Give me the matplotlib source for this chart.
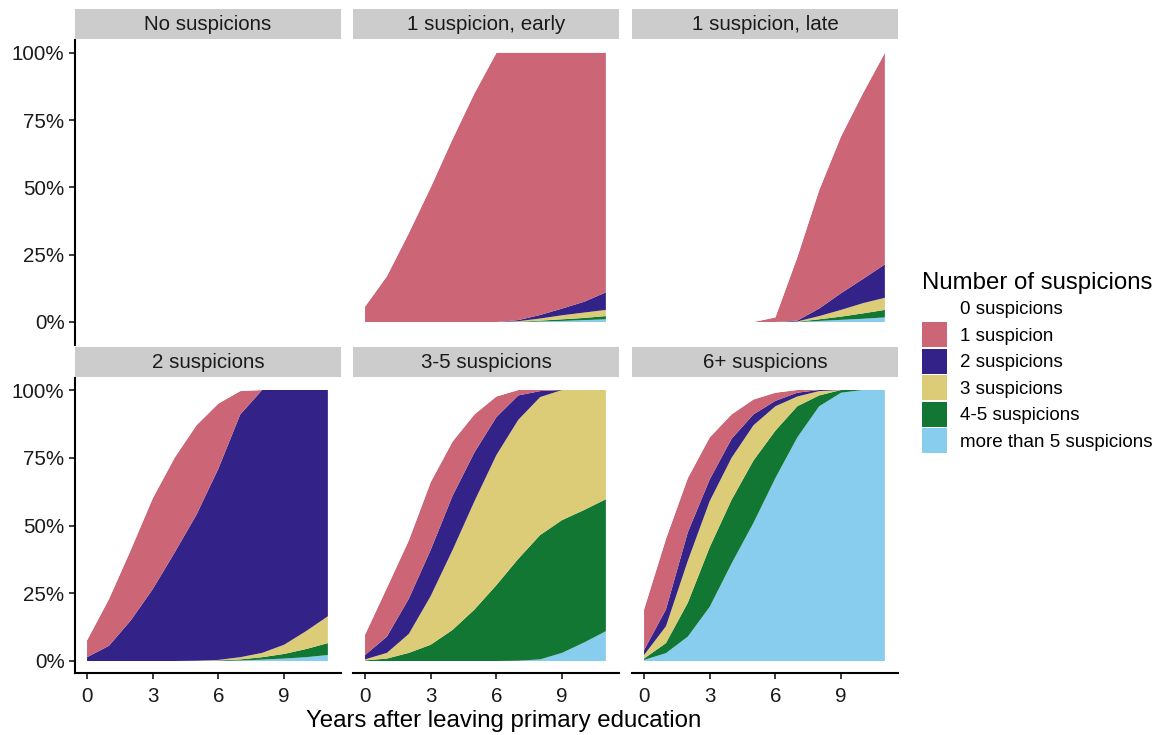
import matplotlib
matplotlib.use("Agg")
import matplotlib.pyplot as plt
from matplotlib.patches import Patch
from matplotlib.ticker import PercentFormatter
import numpy as np

plt.rcParams["font.family"] = ["Liberation Sans", "DejaVu Sans"]

YEARS = list(range(12))

CATEGORIES = ["0 suspicions", "1 suspicion", "2 suspicions", "3 suspicions",
              "4-5 suspicions", "more than 5 suspicions"]
COLORS = ["#FFFFFF", "#CC6677", "#332288", "#DDCC77", "#117733", "#88CCEE"]

PANELS = ["No suspicions", "1 suspicion, early", "1 suspicion, late",
          "2 suspicions", "3-5 suspicions", "6+ suspicions"]

# shares per category (1, 2, 3, 4-5, >5), years 0..11
NONE_1 = [0] * 12
NONE_2 = [0] * 12
NONE_3 = [0] * 12
NONE_45 = [0] * 12
NONE_6 = [0] * 12

EARLY_1 = [0.057, 0.17, 0.33, 0.50, 0.68, 0.85, 1.0, 0.993, 0.974, 0.95, 0.925, 0.89]
EARLY_2 = [0, 0, 0, 0, 0, 0, 0, 0.004, 0.013, 0.025, 0.040, 0.065]
EARLY_3 = [0, 0, 0, 0, 0, 0, 0, 0.002, 0.008, 0.015, 0.020, 0.023]
EARLY_45 = [0, 0, 0, 0, 0, 0, 0, 0.001, 0.003, 0.006, 0.008, 0.012]
EARLY_6 = [0, 0, 0, 0, 0, 0, 0, 0, 0.002, 0.004, 0.007, 0.010]

LATE_1 = [0, 0, 0, 0, 0, 0, 0.017, 0.235, 0.44, 0.583, 0.69, 0.786]
LATE_2 = [0, 0, 0, 0, 0, 0, 0, 0.003, 0.028, 0.062, 0.090, 0.124]
LATE_3 = [0, 0, 0, 0, 0, 0, 0, 0.001, 0.012, 0.025, 0.038, 0.045]
LATE_45 = [0, 0, 0, 0, 0, 0, 0, 0.001, 0.006, 0.012, 0.020, 0.028]
LATE_6 = [0, 0, 0, 0, 0, 0, 0, 0, 0.004, 0.008, 0.012, 0.017]

TWO_1 = [0.062, 0.172, 0.26, 0.335, 0.35, 0.33, 0.24, 0.086, 0, 0, 0, 0]
TWO_2 = [0.014, 0.056, 0.15, 0.265, 0.40, 0.539, 0.706, 0.896, 0.97, 0.94, 0.89, 0.835]
TWO_3 = [0, 0, 0, 0, 0, 0.001, 0.002, 0.008, 0.016, 0.034, 0.066, 0.099]
TWO_45 = [0, 0, 0, 0, 0, 0, 0.002, 0.004, 0.009, 0.017, 0.030, 0.044]
TWO_6 = [0, 0, 0, 0, 0, 0, 0, 0.002, 0.005, 0.009, 0.014, 0.022]

MID_1 = [0.075, 0.18, 0.215, 0.25, 0.20, 0.14, 0.076, 0.02, 0.004, 0, 0, 0]
MID_2 = [0.016, 0.06, 0.13, 0.17, 0.20, 0.18, 0.14, 0.09, 0.022, 0, 0, 0]
MID_3 = [0.004, 0.021, 0.07, 0.18, 0.295, 0.40, 0.48, 0.513, 0.509, 0.48, 0.443, 0.403]
MID_45 = [0.002, 0.009, 0.03, 0.06, 0.115, 0.19, 0.28, 0.376, 0.459, 0.49, 0.489, 0.487]
MID_6 = [0, 0, 0, 0, 0, 0, 0, 0.001, 0.006, 0.03, 0.068, 0.11]

MANY_1 = [0.15, 0.26, 0.20, 0.155, 0.09, 0.055, 0.03, 0.01, 0, 0, 0, 0]
MANY_2 = [0.018, 0.062, 0.105, 0.08, 0.07, 0.04, 0.02, 0.014, 0.004, 0, 0, 0]
MANY_3 = [0.013, 0.062, 0.155, 0.17, 0.155, 0.13, 0.09, 0.036, 0.016, 0, 0, 0]
MANY_45 = [0.005, 0.037, 0.125, 0.22, 0.235, 0.23, 0.175, 0.115, 0.04, 0.01, 0, 0]
MANY_6 = [0.004, 0.029, 0.09, 0.20, 0.36, 0.51, 0.675, 0.825, 0.94, 0.99, 1.0, 1.0]

SERIES = [
    (NONE_1, NONE_2, NONE_3, NONE_45, NONE_6),
    (EARLY_1, EARLY_2, EARLY_3, EARLY_45, EARLY_6),
    (LATE_1, LATE_2, LATE_3, LATE_45, LATE_6),
    (TWO_1, TWO_2, TWO_3, TWO_45, TWO_6),
    (MID_1, MID_2, MID_3, MID_45, MID_6),
    (MANY_1, MANY_2, MANY_3, MANY_45, MANY_6),
]

W, H = 1163, 735
fig = plt.figure(figsize=(W / 100, H / 100), dpi=100)

COL_X = [75, 353, 632]
COL_W = 266
ROWS = [(40, 345, 1.048, -0.0855), (378, 673, 1.0443, -0.0443)]
STRIP_H = 31
TXT = "#1A1A1A"


def px_axes(x0, y0, x1, y1):
    return fig.add_axes([x0 / W, 1 - y1 / H, (x1 - x0) / W, (y1 - y0) / H])


for i, (title, ser) in enumerate(zip(PANELS, SERIES)):
    r, c = divmod(i, 3)
    top, bot, ymax, ymin = ROWS[r]
    ax = px_axes(COL_X[c], top, COL_X[c] + COL_W, bot)

    shares = [np.array(s, dtype=float) for s in ser]
    zero = 1 - np.sum(shares, axis=0)
    # stack bottom to top: >5, 4-5, 3, 2, 1, 0
    ax.stackplot(YEARS, *shares[::-1], zero, colors=COLORS[::-1], linewidth=0)

    ax.set_xlim(-0.55, 11.6)
    ax.set_ylim(ymin, ymax)
    ax.set_xticks([0, 3, 6, 9])
    ax.set_yticks([0, 0.25, 0.5, 0.75, 1.0])
    ax.yaxis.set_major_formatter(PercentFormatter(1.0, decimals=0))
    for s in ["top", "right"]:
        ax.spines[s].set_visible(False)
    ax.spines["left"].set_visible(c == 0)
    ax.spines["bottom"].set_visible(r == 1)
    ax.spines["left"].set_linewidth(1.5)
    ax.spines["bottom"].set_linewidth(1.5)
    ax.tick_params(axis="both", labelsize=14.8, colors=TXT, width=1.2, length=4.5)
    ax.tick_params(axis="x", pad=5.5, bottom=(r == 1), labelbottom=(r == 1))
    ax.tick_params(axis="y", pad=3, left=(c == 0), labelleft=(c == 0))

    sax = px_axes(COL_X[c], top - STRIP_H, COL_X[c] + COL_W, top - 1)
    sax.set_facecolor("#CCCCCC")
    sax.set_xticks([])
    sax.set_yticks([])
    for s in sax.spines.values():
        s.set_visible(False)
    sax.text(0.5, 0.5, title, ha="center", va="center", fontsize=14.8,
             color=TXT, transform=sax.transAxes)

fig.text(504 / W, 1 - 721 / H, "Years after leaving primary education",
         ha="center", va="center", fontsize=17.3, color="black")

handles = [Patch(facecolor=col, edgecolor="none") for col in COLORS]
leg = fig.legend(handles, CATEGORIES, loc="upper left",
                 bbox_to_anchor=(922 / W, 1 - 272 / H), frameon=False,
                 fontsize=13.5, title="Number of suspicions", title_fontsize=17.3,
                 handlelength=1.33, handleheight=1.67, labelspacing=0.085,
                 handletextpad=0.7, borderpad=0, borderaxespad=0,
                 alignment="left")

fig.savefig("out.png", dpi=100)
